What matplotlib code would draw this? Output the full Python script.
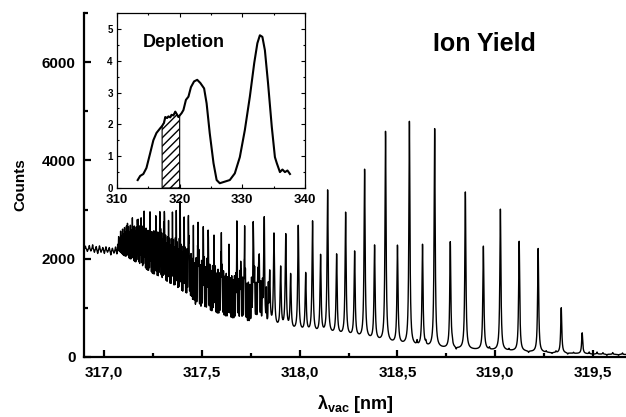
import numpy as np
import matplotlib
matplotlib.use("Agg")
import matplotlib.pyplot as plt
from matplotlib.ticker import MultipleLocator, FuncFormatter

plt.rcParams["font.family"] = ["Liberation Sans", "DejaVu Sans"]
plt.rcParams["font.weight"] = "bold"
plt.rcParams["mathtext.fontset"] = "custom"
plt.rcParams["mathtext.rm"] = "Liberation Sans:bold"
plt.rcParams["mathtext.it"] = "Liberation Sans:bold"
plt.rcParams["mathtext.bf"] = "Liberation Sans:bold"

# lower envelope of the ion yield spectrum (nm, counts)
base_wl = [316.89, 317.07, 317.10, 317.15, 317.20, 317.25, 317.30, 317.35, 317.40,
           317.45, 317.50, 317.60, 317.70, 317.80, 317.90, 318.00, 318.10, 318.20,
           318.30, 318.40, 318.50, 318.60, 318.70, 318.80, 318.90, 319.00, 319.10,
           319.20, 319.30, 319.40, 319.50, 319.68]
base_counts = [2200, 2150, 1980, 1830, 1680, 1540, 1400, 1280, 1130,
               1040, 960, 830, 710, 630, 560, 500, 460, 430,
               380, 310, 250, 205, 175, 155, 140, 130, 115,
               95, 80, 70, 60, 50]

# tall lines inside the crowded band-head part (nm, peak counts)
head_wl = [317.121, 317.146, 317.172, 317.189, 317.206, 317.236, 317.265, 317.287,
           317.308, 317.330, 317.350, 317.369, 317.389, 317.410, 317.432, 317.457,
           317.481, 317.508, 317.532, 317.563, 317.600, 317.639, 317.679, 317.699,
           317.719]
head_counts = [2557, 2625, 2600, 2660, 2761, 2727, 2863, 2727,
               2898, 2761, 2932, 2829, 3034, 2829, 2829, 2659,
               2727, 2592, 2524, 2353, 2524, 2286, 2727, 1924,
               2659]

# resolved rotational lines (nm, peak counts)
line_wl = [317.764, 317.791, 317.818, 317.847, 317.869, 317.903, 317.929, 317.954,
           317.993, 318.031, 318.066, 318.107, 318.143, 318.189, 318.235, 318.281,
           318.332, 318.383, 318.439, 318.500, 318.561, 318.628, 318.690, 318.770,
           318.847, 318.939, 319.026, 319.122, 319.219, 319.337, 319.444]
line_counts = [2523, 1924, 2638, 1693, 2469, 1789, 2455, 1638,
               2646, 1673, 2735, 2041, 3367, 2061, 2918, 2122,
               3796, 2245, 4571, 2245, 4776, 2265, 4633, 2327,
               3347, 2245, 3000, 2347, 2204, 1000, 490]

# unresolved weak lines that make the black band (nm, peak counts)
fill_wl = [317.070, 317.075, 317.080, 317.085, 317.090, 317.095, 317.100, 317.105,
           317.110, 317.115, 317.120, 317.125, 317.130, 317.135, 317.140, 317.145,
           317.150, 317.155, 317.160, 317.165, 317.170, 317.175, 317.180, 317.185,
           317.190, 317.195, 317.200, 317.205, 317.210, 317.215, 317.220, 317.225,
           317.230, 317.235, 317.240, 317.245, 317.250, 317.255, 317.260, 317.265,
           317.270, 317.275, 317.280, 317.285, 317.290, 317.295, 317.300, 317.305,
           317.310, 317.315, 317.320, 317.325, 317.330, 317.335, 317.340, 317.345,
           317.350, 317.355, 317.360, 317.365, 317.370, 317.375, 317.380, 317.385,
           317.390, 317.395, 317.400, 317.405, 317.410, 317.415, 317.420, 317.425,
           317.430, 317.435, 317.440, 317.445, 317.450, 317.457, 317.464, 317.471,
           317.478, 317.485, 317.492, 317.499, 317.506, 317.513, 317.520, 317.527,
           317.534, 317.541, 317.548, 317.555, 317.562, 317.569, 317.576, 317.583,
           317.590, 317.597, 317.604, 317.611, 317.618, 317.625, 317.632, 317.639,
           317.646, 317.653, 317.660, 317.667, 317.674, 317.681, 317.688, 317.695,
           317.702, 317.709, 317.716, 317.723, 317.730, 317.738, 317.746, 317.754,
           317.762, 317.770, 317.778, 317.786, 317.794, 317.802, 317.810, 317.820,
           317.830, 317.840]
fill_counts = [2300, 2450, 2400, 2560, 2470, 2600, 2500, 2630,
               2530, 2650, 2550, 2620, 2530, 2670, 2560, 2630,
               2520, 2650, 2540, 2610, 2500, 2640, 2530, 2600,
               2490, 2620, 2510, 2580, 2470, 2600, 2480, 2560,
               2450, 2570, 2440, 2530, 2420, 2550, 2410, 2500,
               2390, 2510, 2370, 2480, 2350, 2460, 2330, 2430,
               2300, 2400, 2270, 2380, 2250, 2350, 2230, 2320,
               2200, 2300, 2180, 2270, 2150, 2250, 2130, 2220,
               2100, 2190, 2080, 2160, 2050, 2140, 2030, 2110,
               2000, 2090, 1980, 2060, 1950, 1980, 1860, 1960,
               1840, 1930, 1820, 1900, 1800, 1880, 1780, 1860,
               1760, 1830, 1730, 1810, 1710, 1780, 1680, 1760,
               1660, 1730, 1640, 1710, 1620, 1680, 1590, 1660,
               1570, 1630, 1550, 1610, 1530, 1580, 1500, 1560,
               1480, 1530, 1460, 1500, 1430, 1470, 1400, 1440,
               1370, 1410, 1340, 1380, 1310, 1350, 1280, 1310,
               1230, 1260]

# small wiggles on the flat start and on the tail (nm, counts above/below envelope)
noise_wl = [316.905, 316.915, 316.925, 316.933, 316.942, 316.951, 316.960, 316.968,
            316.977, 316.985, 316.994, 317.002, 317.010, 317.018, 317.027, 317.035,
            317.043, 317.051, 317.059, 317.066, 318.600, 318.645, 318.780, 318.800,
            318.970, 319.070, 319.170, 319.260, 319.290, 319.310, 319.370, 319.400,
            319.480, 319.500, 319.520, 319.550, 319.570, 319.600, 319.630, 319.650]
noise_amp = [60, -50, 80, -40, 100, -60, 70, -80,
             90, -50, 60, -70, 80, -40, 70, -90,
             60, -50, 90, -60, 80, 60, 70, -40,
             40, 30, -30, 25, -20, 30, -25, 20,
             35, -20, 40, 30, -25, 35, -20, 30]

# inset: depletion spectrum
dep_wl = [313.3, 313.7, 314.2, 314.7, 315.3, 315.8, 316.3, 316.9, 317.2, 317.5,
          317.7, 318.0, 318.2, 318.5, 318.7, 319.0, 319.3, 319.6, 319.8, 320.0,
          320.3, 320.6, 321.0, 321.4, 321.8, 322.3, 322.8, 323.3, 323.9, 324.3,
          324.8, 325.4, 325.9, 326.4, 327.2, 328.0, 328.8, 329.6, 330.4, 331.2,
          331.9, 332.4, 332.8, 333.2, 333.6, 334.1, 334.7, 335.2, 335.5, 336.0,
          336.4, 336.8, 337.2, 337.6]
dep_signal = [0.25, 0.38, 0.44, 0.63, 1.10, 1.50, 1.73, 1.88, 1.95, 2.05,
              2.23, 2.20, 2.25, 2.22, 2.30, 2.28, 2.40, 2.30, 2.23, 2.28,
              2.35, 2.45, 2.77, 2.87, 3.17, 3.35, 3.40, 3.30, 3.13, 2.66,
              1.72, 0.78, 0.25, 0.15, 0.20, 0.25, 0.46, 0.97, 1.82, 2.87,
              3.93, 4.55, 4.80, 4.75, 4.33, 3.30, 1.92, 0.97, 0.78, 0.50,
              0.58, 0.50, 0.55, 0.44]
shade_from, shade_to = 317.2, 320.0

# build the spectrum from the line lists
wl = np.linspace(316.89, 319.68, 20000)
spec = np.interp(wl, base_wl, base_counts).astype(float)


def add_lines(centres, tops, width, shape):
    # each line is scaled so that its top lands on the value
    global spec
    amps = np.asarray(tops, float) - np.interp(centres, wl, spec)
    for c, a in zip(centres, amps):
        d = wl - c
        if shape == "gauss":
            spec = spec + a * np.exp(-0.5 * (d / width) ** 2)
        else:
            spec = spec + a * width**2 / (d**2 + width**2)


add_lines(fill_wl, fill_counts, 0.0011, "gauss")
add_lines(line_wl, line_counts, 0.0032, "lorentz")
add_lines(head_wl, head_counts, 0.0016, "lorentz")
for c, a in zip(noise_wl, noise_amp):
    spec = spec + a * 0.002**2 / ((wl - c) ** 2 + 0.002**2)

fig = plt.figure(figsize=(6.26, 4.17), dpi=100)
ax = fig.add_axes([84 / 626, 60 / 417, 542 / 626, 344 / 417])
ax.plot(wl, spec, color="black", lw=1.0)
ax.set_xlim(316.898, 319.668)
ax.set_ylim(0, 7000)
for s in ["top", "right"]:
    ax.spines[s].set_visible(False)
for s in ["left", "bottom"]:
    ax.spines[s].set_linewidth(1.6)
ax.xaxis.set_major_locator(MultipleLocator(0.5))
ax.xaxis.set_minor_locator(MultipleLocator(0.25))
ax.yaxis.set_major_locator(MultipleLocator(2000))
ax.yaxis.set_minor_locator(MultipleLocator(1000))
ax.xaxis.set_major_formatter(FuncFormatter(lambda v, p: f"{v:.1f}".replace(".", ",")))
ax.tick_params(which="both", direction="in", width=1.6, labelsize=11, pad=6)
ax.tick_params(which="major", length=5)
ax.tick_params(which="minor", length=3)
ax.set_ylabel("Counts", fontsize=11, fontweight="bold", labelpad=10)
ax.set_xlabel(r"$\lambda_{\mathrm{vac}}$ [nm]", fontsize=13, fontweight="bold", labelpad=10)
fig.text(484 / 626, 1 - 44 / 417, "Ion Yield", fontsize=18, fontweight="bold",
         ha="center", va="center")

# inset
axi = fig.add_axes([117 / 626, 1 - 188 / 417, 188 / 626, 175 / 417])
axi.plot(dep_wl, dep_signal, color="black", lw=1.5)
sel = [(x, y) for x, y in zip(dep_wl, dep_signal) if shade_from <= x <= shade_to]
axi.fill_between([p[0] for p in sel], 0, [p[1] for p in sel], facecolor="white",
                 edgecolor="black", hatch="////", lw=0.8)
axi.set_xlim(310, 340)
axi.set_ylim(0, 5.5)
axi.xaxis.set_major_locator(MultipleLocator(10))
axi.xaxis.set_minor_locator(MultipleLocator(5))
axi.yaxis.set_major_locator(MultipleLocator(1))
axi.yaxis.set_minor_locator(MultipleLocator(0.5))
axi.tick_params(which="both", direction="in", top=True, right=True, width=0.8)
axi.tick_params(which="major", length=3)
axi.tick_params(which="minor", length=1.5)
axi.tick_params(axis="x", labelsize=9.5, pad=4.5)
axi.tick_params(axis="y", labelsize=7, pad=3)
for s in axi.spines.values():
    s.set_linewidth(0.9)
axi.text(0.356, 0.83, "Depletion", transform=axi.transAxes, fontsize=13,
         fontweight="bold", ha="center", va="center")

fig.savefig("out.png", dpi=100)
